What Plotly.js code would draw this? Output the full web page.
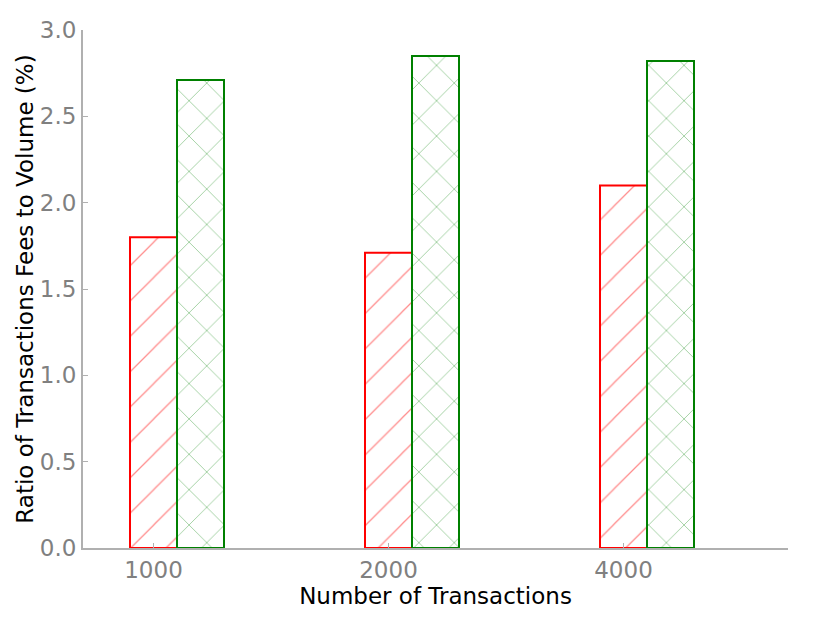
<!DOCTYPE html>
<html>
<head>
<meta charset="utf-8">
<script src="https://cdn.plot.ly/plotly-3.0.1.min.js"></script>
<style>
  html, body { margin: 0; padding: 0; background: #fff; }
  #chart { width: 830px; height: 623px; }
</style>
</head>
<body>
<div id="chart"></div>
<script>
// valeurs
const categories = ['1000', '2000', '4000'];
const redValues = [1.80, 1.71, 2.10];
const greenValues = [2.71, 2.85, 2.82];

const positions = categories.map((_, i) => i);

const redTrace = {
    type: 'bar',
    x: positions,
    y: redValues,
    width: 0.2,
    offset: -0.1,
    marker: {
        color: 'white',
        line: { color: '#ff0000', width: 2 },
        pattern: { shape: '/', fgcolor: 'rgba(255,0,0,0.45)', bgcolor: 'white', size: 25, solidity: 0.05 }
    },
    hoverinfo: 'skip',
    showlegend: false
};

const greenTrace = {
    type: 'bar',
    x: positions,
    y: greenValues,
    width: 0.2,
    offset: 0.1,
    marker: {
        color: 'white',
        line: { color: '#008000', width: 2 },
        pattern: { shape: 'x', fgcolor: 'rgba(0,128,0,0.55)', bgcolor: 'white', size: 25, solidity: 0.05 }
    },
    hoverinfo: 'skip',
    showlegend: false
};

const layout = {
    width: 830,
    height: 623,
    margin: { l: 83, r: 42, t: 30, b: 75 },
    paper_bgcolor: 'white',
    plot_bgcolor: 'white',
    barmode: 'overlay',
    font: { family: 'DejaVu Sans', color: '#000' },
    xaxis: {
        range: [-0.3, 2.7],
        tickvals: positions,
        ticktext: categories,
        ticks: 'inside',
        ticklen: 5,
        tickcolor: '#b0b0b0',
        showline: true,
        linecolor: '#b0b0b0',
        linewidth: 2,
        showgrid: false,
        zeroline: false,
        tickfont: { size: 23, color: '#808080' },
        title: { text: 'Number of Transactions', font: { size: 23, color: '#000' }, standoff: 0 }
    },
    yaxis: {
        range: [0, 3],
        tickvals: [0, 0.5, 1, 1.5, 2, 2.5, 3],
        ticktext: ['0.0', '0.5', '1.0', '1.5', '2.0', '2.5', '3.0'],
        ticks: 'inside',
        ticklen: 5,
        tickcolor: '#b0b0b0',
        showline: true,
        linecolor: '#b0b0b0',
        linewidth: 2,
        showgrid: false,
        zeroline: false,
        tickfont: { size: 23, color: '#808080' },
        title: { text: 'Ratio of Transactions Fees to Volume (%)', font: { size: 23, color: '#000' }, standoff: 0 }
    }
};

Plotly.newPlot('chart', [redTrace, greenTrace], layout, { displayModeBar: false, staticPlot: true });
</script>
</body>
</html>
